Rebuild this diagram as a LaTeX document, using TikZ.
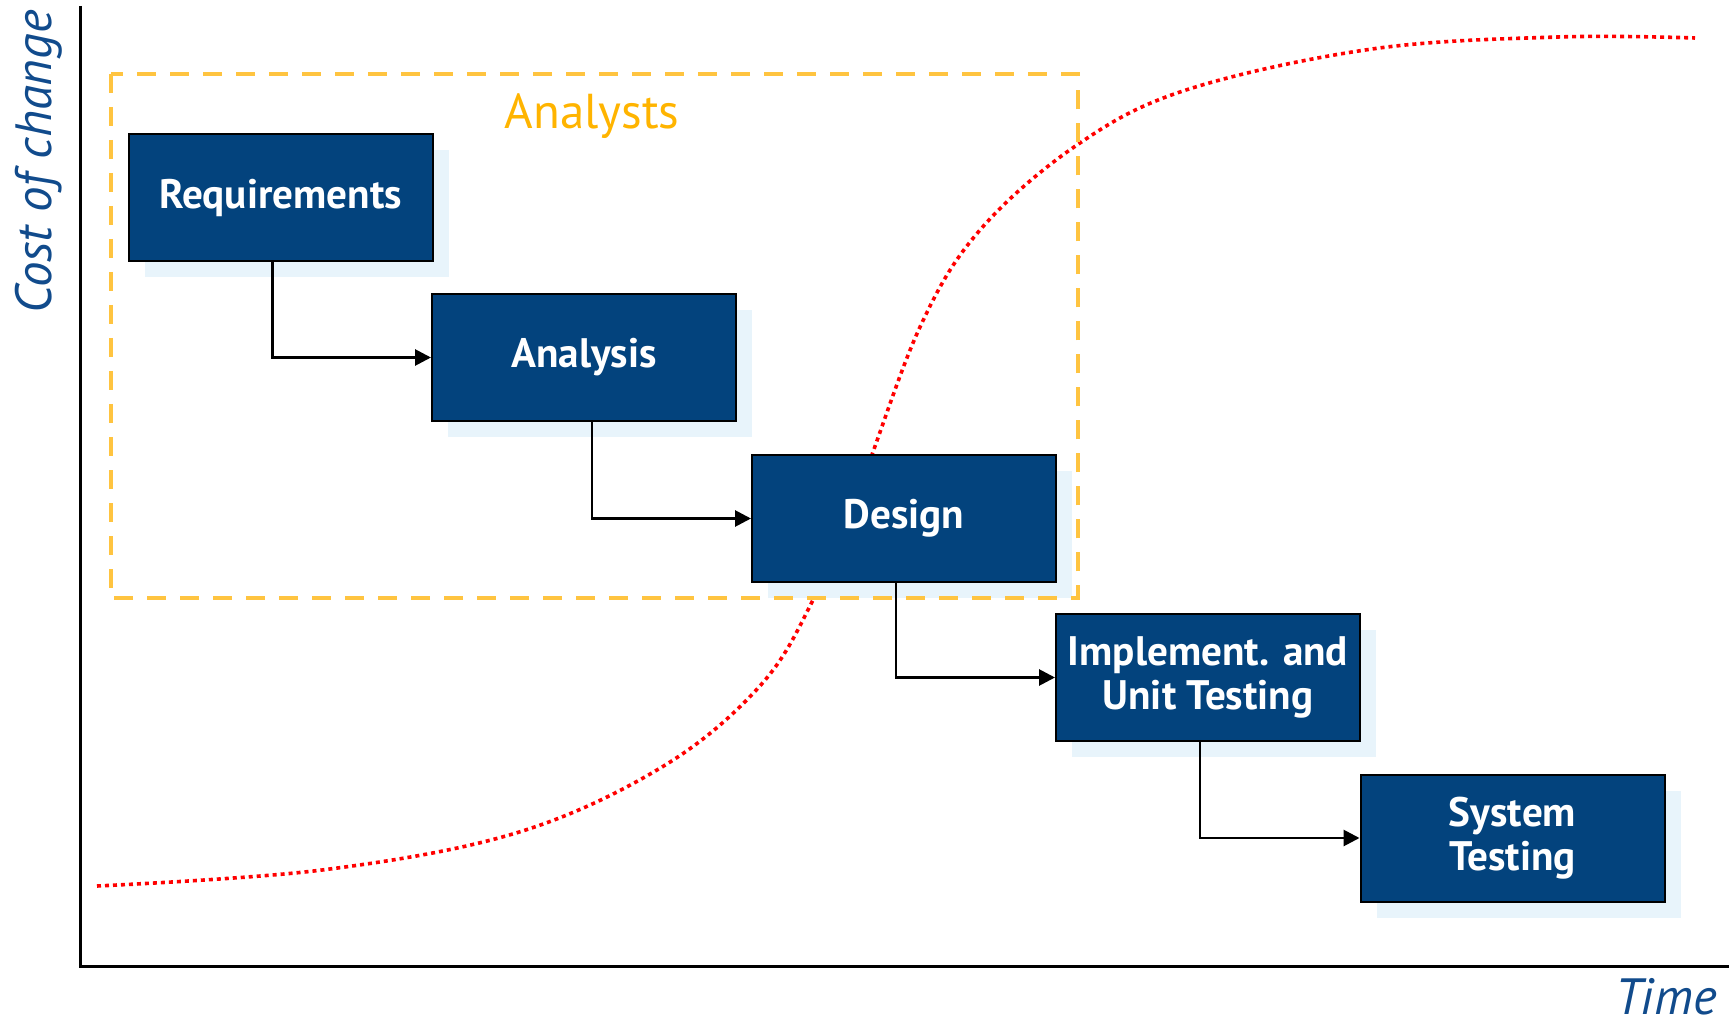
\documentclass[tikz,border=0pt]{standalone}
\usepackage{fontspec}
\setmainfont{PT Sans}
\usetikzlibrary{arrows.meta,shadows}

\definecolor{boxblue}{RGB}{3,67,125}
\definecolor{shadeblue}{RGB}{232,244,251}
\definecolor{framegold}{RGB}{255,196,64}
\definecolor{textgold}{RGB}{255,180,0}
\definecolor{labelblue}{RGB}{17,75,140}

\tikzset{
    stage/.style={draw=black, line width=1pt, fill=boxblue, text=white,
        minimum width=152pt, minimum height=63.5pt, align=center,
        font=\fontsize{20.6}{22}\selectfont\bfseries,
        drop shadow={shadow xshift=8pt, shadow yshift=-8pt, fill=shadeblue, draw=none, opacity=1}},
    flow/.style={line width=1.4pt, -{Triangle[length=8pt,width=8pt]}},
    axislabel/.style={text=labelblue, inner sep=0pt, font=\fontsize{25.5}{28}\selectfont\itshape},
}

\begin{document}
\begin{tikzpicture}[x=0.5pt, y=-0.5pt]
    \useasboundingbox (0,0) rectangle (1729,1026);
    % cost of change curve
    \draw[red, line width=1.8pt, dash pattern=on 2pt off 2pt] plot[smooth, tension=0.6] coordinates {
        (97,886) (322,870) (516,833) (662,767) (759,687) (812,602) (860,487) (920,327)
        (980,230) (1077,145) (1186,90) (1372,49) (1558,37) (1695,38)};
    % axes
    \draw[line width=1.5pt] (80,6) -- (80,966) -- (1729,966);
    % stages
    \node[stage] (req) at (280.5,198) {Requirements};
    \node[stage] (ana) at (584,357.5) {Analysis};
    \node[stage] (des) at (904,518.5) {Design};
    \node[stage] (imp) at (1208,677.5) {Implement. and\\Unit Testing};
    \node[stage] (sys) at (1512.5,838) {System\\Testing};
    \draw[flow] ([xshift=-4.2pt]req.south) |- (ana.west);
    \draw[flow] ([xshift=4pt]ana.south) |- (des.west);
    \draw[flow] ([xshift=-4pt]des.south) |- (imp.west);
    \draw[flow] ([xshift=-4pt]imp.south) |- (sys.west);
    % analysts frame
    \draw[framegold, line width=2pt, dash pattern=on 9.5pt off 7pt] (110.7,74) rectangle (1077.5,598.3);
    \node[text=textgold, inner sep=0pt, anchor=base, font=\fontsize{24.5}{28}\selectfont] (analysts) at (592,129) {Analysts};
    % axis labels
    \node[axislabel, rotate=90, anchor=base west] (cost) at (51,314) {Cost of change};
    \node[axislabel, anchor=base east] (time) at (1717,1014) {Time};
\end{tikzpicture}
\end{document}
